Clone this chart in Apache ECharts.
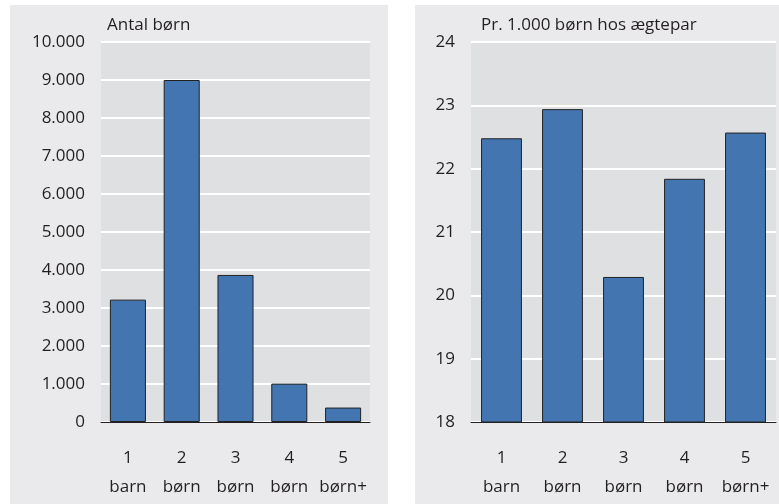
<!DOCTYPE html>
<html>
<head>
<meta charset="utf-8">
<script src="https://cdn.jsdelivr.net/npm/echarts@6/dist/echarts.min.js"></script>
<style>
html,body{margin:0;padding:0;background:#fff;}
#c{width:779px;height:504px;}
</style>
</head>
<body>
<div id="c"></div>
<script>
const categories = ['1\nbarn', '2\nbørn', '3\nbørn', '4\nbørn', '5\nbørn+'];
const antalBorn = [3220, 9000, 3870, 1010, 380];
const prTusind = [22.48, 22.94, 20.29, 21.84, 22.57];
const leftTitle = 'Antal børn';
const rightTitle = 'Pr. 1.000 børn hos ægtepar';

const FONT = 'Open Sans';
const TXT = '#231f20';
const BAR = '#4376b0';
const PLOT_BG = '#dfe0e2';
const PANEL_BG = '#eaeaec';

const chart = echarts.init(document.getElementById('c'), null, {renderer: 'canvas'});

function xAxis(gi) {
  return {
    type: 'category', gridIndex: gi, data: categories,
    axisTick: {show: false},
    axisLine: {show: true, lineStyle: {color: '#231f20', width: 1}},
    axisLabel: {color: TXT, fontFamily: FONT, fontSize: 17, lineHeight: 29, margin: 22, interval: 0}
  };
}
function yAxis(gi, min, max, interval, fmt) {
  return {
    type: 'value', gridIndex: gi, min: min, max: max, interval: interval,
    axisLine: {show: false}, axisTick: {show: false},
    splitLine: {show: true, lineStyle: {color: '#ffffff', width: 2}},
    axisLabel: {color: TXT, fontFamily: FONT, fontSize: 17, margin: 16, formatter: fmt}
  };
}
const fmtThousand = v => v === 0 ? '0' : String(v).replace(/\B(?=(\d{3})+(?!\d))/g, '.');

chart.setOption({
  animation: false,
  backgroundColor: '#ffffff',
  graphic: [
    {type: 'rect', z: -10, shape: {x: 10, y: 5, width: 378, height: 499}, style: {fill: PANEL_BG}},
    {type: 'rect', z: -10, shape: {x: 415, y: 5, width: 364, height: 499}, style: {fill: PANEL_BG}},
    {type: 'text', left: 107, top: 17, style: {text: leftTitle, fill: TXT, font: '17px "Open Sans"'}},
    {type: 'text', left: 481, top: 17, style: {text: rightTitle, fill: TXT, font: '17px "Open Sans"'}}
  ],
  grid: [
    {left: 101, top: 42, width: 269, height: 380, show: true, backgroundColor: PLOT_BG, borderWidth: 0},
    {left: 471, top: 42, width: 305, height: 380, show: true, backgroundColor: PLOT_BG, borderWidth: 0}
  ],
  xAxis: [xAxis(0), xAxis(1)],
  yAxis: [yAxis(0, 0, 10000, 1000, fmtThousand), yAxis(1, 18, 24, 1, v => String(v))],
  series: [
    {type: 'bar', xAxisIndex: 0, yAxisIndex: 0, data: antalBorn, barWidth: '67%',
     itemStyle: {color: BAR, borderColor: '#222222', borderWidth: 1}},
    {type: 'bar', xAxisIndex: 1, yAxisIndex: 1, data: prTusind, barWidth: '67%',
     itemStyle: {color: BAR, borderColor: '#222222', borderWidth: 1}}
  ]
});
</script>
</body>
</html>
